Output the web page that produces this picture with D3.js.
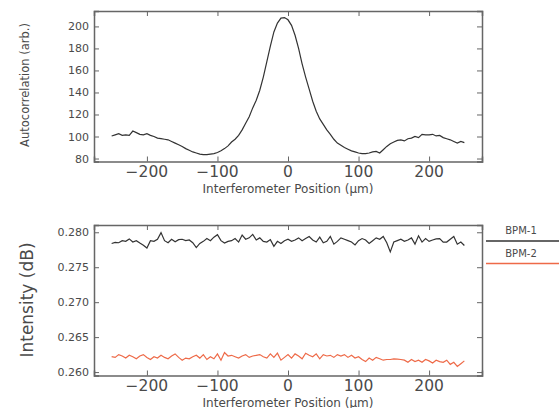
<!DOCTYPE html>
<html>
<head>
<meta charset="utf-8">
<script src="https://cdn.jsdelivr.net/npm/d3@7"></script>
<style>
  body { margin: 0; background: #fff; }
  svg { display: block; }
  text { font-family: "DejaVu Sans", sans-serif; fill: #4a4a4a; }
</style>
</head>
<body>
<svg></svg>
<script>
// Dimensions
const width = 559;
const height = 408;

// Positions des échantillons (µm)
const positions = d3.range(-250, 251, 5);

// Autocorrélation (arb.)
const autocorr = [
  100.5, 101.5, 102.5, 101, 101.5, 101, 105, 103.5, 102, 101.5,
  102.5, 101, 100, 98.5, 98, 97.5, 97, 95.5, 94, 92.5,
  91, 89, 87.5, 86, 85, 84, 83.5, 83.5, 84, 84.5,
  85.5, 87, 89, 91.5, 95, 97.5, 101, 106, 112, 118,
  126, 133, 142, 154, 168, 182, 195, 203, 207.5, 208,
  206, 201, 192, 180, 166, 154, 143, 132, 123, 116,
  111, 106, 102, 97.5, 94, 92, 90, 88.5, 87, 86,
  85, 84.5, 84.5, 85, 86, 86.5, 85, 88, 91, 93.5,
  95, 96.5, 97, 96, 98, 98.5, 100, 99, 102, 101.5,
  101.5, 102, 100.5, 101, 99, 98, 97, 95.5, 94, 95.5,
  94.5
];

// Intensité BPM-1 (dB)
const bpm1 = [
  .27840, .27855, .27850, .27880, .27870, .27905, .27860, .27880, .27845, .27815,
  .27775, .27880, .27870, .27900, .27995, .27880, .27850, .27900, .27865, .27895,
  .27900, .27880, .27890, .27850, .27780, .27840, .27870, .27910, .27880, .27930,
  .27965, .27880, .27845, .27870, .27880, .27910, .27860, .27960, .27900, .27920,
  .27970, .27890, .27920, .27870, .27860, .27895, .27800, .27870, .27840, .27880,
  .27900, .27870, .27890, .27920, .27880, .27910, .27940, .27890, .27860, .27930,
  .27850, .27870, .27940, .27830, .27870, .27920, .27900, .27880, .27860, .27820,
  .27880, .27910, .27890, .27840, .27880, .27920, .27900, .27940, .27850, .27720,
  .27860, .27880, .27900, .27870, .27890, .27920, .27830, .27950, .27860, .27910,
  .27870, .27890, .27905, .27910, .27860, .27860, .27900, .27940, .27830, .27860,
  .27810
];

// Intensité BPM-2 (dB)
const bpm2 = [
  .26220, .26210, .26250, .26230, .26200, .26240, .26220, .26190, .26230, .26250,
  .26210, .26180, .26220, .26200, .26240, .26210, .26190, .26230, .26260, .26210,
  .26170, .26200, .26190, .26220, .26240, .26200, .26250, .26180, .26220, .26190,
  .26260, .26170, .26280, .26230, .26240, .26220, .26200, .26230, .26250, .26210,
  .26230, .26240, .26250, .26220, .26200, .26260, .26210, .26270, .26170, .26210,
  .26250, .26200, .26260, .26230, .26190, .26270, .26240, .26220, .26260, .26190,
  .26250, .26230, .26240, .26210, .26250, .26230, .26250, .26210, .26240, .26200,
  .26220, .26180, .26150, .26200, .26170, .26210, .26190, .26170, .26180, .26180,
  .26190, .26185, .26180, .26170, .26140, .26180, .26150, .26170, .26140, .26180,
  .26160, .26130, .26170, .26150, .26140, .26170, .26110, .26140, .26080, .26120,
  .26160
];

// Graduations
const xTicks = [-200, -100, 0, 100, 200];
const topYTicks = [80, 100, 120, 140, 160, 180, 200];
const botYTicks = [0.260, 0.265, 0.270, 0.275, 0.280];

const series = [
  { name: "BPM-1", values: bpm1, color: "#333333" },
  { name: "BPM-2", values: bpm2, color: "#ee6a48" }
];

const svg = d3.select("svg")
    .attr("width", width)
    .attr("height", height);

const left = 94, right = 482;
const fmtX = d => d < 0 ? "\u2212" + Math.abs(d) : String(d);

function panel(top, bottom, yDomain, yTicks, yFmt) {
  const x = d3.scaleLinear().domain([-275, 275]).range([left, right]);
  const y = d3.scaleLinear().domain(yDomain).range([bottom, top]);
  const g = svg.append("g");

  // Axes avec graduations internes
  g.append("g").attr("transform", `translate(0,${bottom})`)
    .call(d3.axisBottom(x).tickValues(xTicks).tickSize(-5).tickFormat(""));
  g.append("g").attr("transform", `translate(0,${top})`)
    .call(d3.axisTop(x).tickValues(xTicks).tickSize(-5).tickFormat(""));
  g.append("g").attr("transform", `translate(${left},0)`)
    .call(d3.axisLeft(y).tickValues(yTicks).tickSize(-5).tickFormat(""));
  g.append("g").attr("transform", `translate(${right},0)`)
    .call(d3.axisRight(y).tickValues(yTicks).tickSize(-5).tickFormat(""));
  g.selectAll(".domain").attr("stroke", "#666").attr("stroke-width", 1.5);
  g.selectAll(".tick line").attr("stroke", "#666").attr("stroke-width", 1);

  // Libellés
  g.selectAll(".xl").data(xTicks).join("text")
    .attr("x", d => x(d)).attr("y", bottom + 15)
    .attr("text-anchor", "middle").attr("font-size", 15.5).attr("fill", "#666")
    .text(fmtX);
  g.selectAll(".yl").data(yTicks).join("text")
    .attr("x", left - 5).attr("y", d => y(d) + 4)
    .attr("text-anchor", "end").attr("font-size", 11)
    .text(yFmt);
  g.append("text")
    .attr("x", 288).attr("y", bottom + 31)
    .attr("text-anchor", "middle").attr("font-size", 12)
    .text("Interferometer Position (\u03bcm)");
  return { x, y, g };
}

// Panneau du haut : autocorrélation
const p1 = panel(11, 161.5, [77.3, 214], topYTicks, d => d);
p1.g.append("path")
  .datum(autocorr)
  .attr("fill", "none").attr("stroke", "#333").attr("stroke-width", 1.2)
  .attr("d", d3.line().x((d, i) => p1.x(positions[i])).y(d => p1.y(d)));
svg.append("text")
  .attr("transform", "translate(29,85) rotate(-90)")
  .attr("text-anchor", "middle").attr("font-size", 11.5)
  .text("Autocorrelation (arb.)");

// Panneau du bas : intensité
const p2 = panel(225, 375.5, [0.25951, 0.28104], botYTicks, d3.format(".3f"));
series.forEach(s => {
  p2.g.append("path")
    .datum(s.values)
    .attr("fill", "none").attr("stroke", s.color).attr("stroke-width", 1.2)
    .attr("d", d3.line().x((d, i) => p2.x(positions[i])).y(d => p2.y(d)));
});
svg.append("text")
  .attr("transform", "translate(33,300) rotate(-90)")
  .attr("text-anchor", "middle").attr("font-size", 17)
  .text("Intensity (dB)");

// Légende
series.forEach((s, i) => {
  const ly = 241 + i * 22.5;
  svg.append("text")
    .attr("x", 521).attr("y", ly - 7)
    .attr("text-anchor", "middle").attr("font-size", 10)
    .text(s.name);
  svg.append("line")
    .attr("x1", 486).attr("x2", width)
    .attr("y1", ly).attr("y2", ly)
    .attr("stroke", s.color).attr("stroke-width", 1.5);
});
</script>
</body>
</html>
